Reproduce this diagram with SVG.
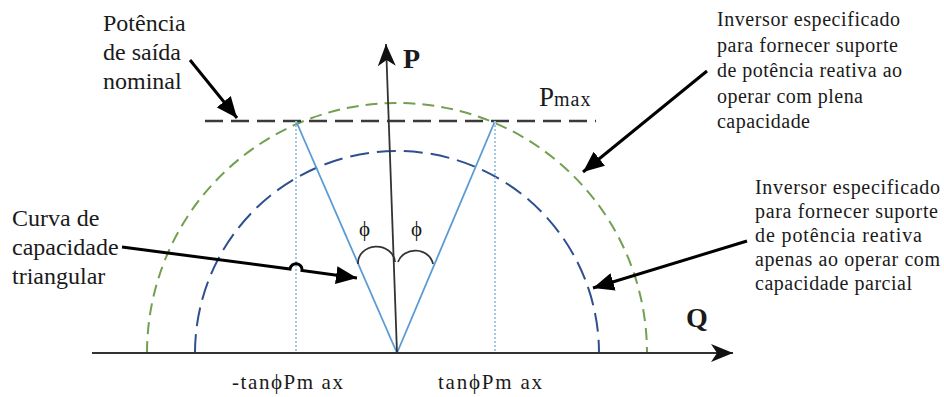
<svg xmlns="http://www.w3.org/2000/svg" width="944" height="397" viewBox="0 0 944 397">
<style>
.t{font-family:"Liberation Serif","Times New Roman",serif;fill:#1a1a1a}
.lbl{font-size:24px}
.rt{font-size:20px}
.ax{stroke:#333;stroke-width:1.8;fill:none}
.call{stroke:#000;stroke-width:3;fill:none}
</style>
<defs>
<marker id="axh" markerUnits="userSpaceOnUse" markerWidth="24" markerHeight="18" refX="22" refY="9" orient="auto">
<path d="M0,0 L22,9 L0,18 L6,9 z" fill="#111"/>
</marker>
<marker id="cah" markerUnits="userSpaceOnUse" markerWidth="22" markerHeight="18" refX="21" refY="9" orient="auto">
<path d="M0,0 L21,9 L0,18 z" fill="#000"/>
</marker>
</defs>
<rect width="944" height="397" fill="#fff"/>

<g id="curves">
<path id="green-arc" d="M147,353 A250,250 0 0 1 647,353" fill="none" stroke="#72A050" stroke-width="2" stroke-dasharray="12 7"/>
<path id="blue-arc" d="M195,353 A202,202 0 0 1 599,353" fill="none" stroke="#2F4F8F" stroke-width="2" stroke-dasharray="19 8"/>
<line id="pmax-line" x1="205" y1="121" x2="596" y2="121" stroke="#3a3a3a" stroke-width="2.5" stroke-dasharray="18 8"/>
<g id="triangle">
<line x1="397" y1="353" x2="296" y2="121" stroke="#5B9BD5" stroke-width="1.8"/>
<line x1="397" y1="353" x2="495" y2="121" stroke="#5B9BD5" stroke-width="1.8"/>
<line x1="296" y1="121" x2="296" y2="353" stroke="#9DC3E6" stroke-width="1.8" stroke-dasharray="2 2"/>
<line x1="495" y1="121" x2="495" y2="353" stroke="#9DC3E6" stroke-width="1.8" stroke-dasharray="2 2"/>
</g>
<g id="phi-arcs" fill="none" stroke="#333" stroke-width="1.8">
<path d="M358,264 A18,16 0 0 1 395,262"/>
<path d="M398,262 A18,16 0 0 1 433,264"/>
</g>
</g>

<g id="connectors">
<line class="ax" x1="92" y1="353" x2="733" y2="353" marker-end="url(#axh)"/>
<line class="ax" x1="397" y1="353" x2="386" y2="44" marker-end="url(#axh)"/>
<line class="call" x1="190" y1="60" x2="237" y2="118" marker-end="url(#cah)"/>
<line class="call" x1="707" y1="71" x2="583" y2="172" marker-end="url(#cah)"/>
<line class="call" x1="747" y1="241" x2="593" y2="288" marker-end="url(#cah)"/>
<path class="call" d="M122,247 L290,269 A6,6 0 0 1 302,270.5 L357,278" marker-end="url(#cah)"/>
</g>

<g id="axis-labels">
<text class="t" x="403" y="68" font-size="28" font-weight="bold">P</text>
<text class="t" x="686" y="327" font-size="28" font-weight="bold">Q</text>
<text class="t" x="539" y="106" font-size="27">P<tspan font-size="20" letter-spacing="1">max</tspan></text>
<text class="t" x="359" y="236" font-size="21">ϕ</text>
<text class="t" x="411" y="236" font-size="21">ϕ</text>
<text class="t" x="232" y="389" font-size="21" textLength="111">-tanϕPm ax</text>
<text class="t" x="438" y="389" font-size="21" textLength="104">tanϕPm ax</text>
</g>

<g id="label-nominal">
<text class="t lbl" x="103" y="31">Potência</text>
<text class="t lbl" x="103" y="60">de saída</text>
<text class="t lbl" x="103" y="89">nominal</text>
</g>

<g id="label-curva">
<text class="t lbl" x="12" y="226">Curva de</text>
<text class="t lbl" x="12" y="255">capacidade</text>
<text class="t lbl" x="12" y="284">triangular</text>
</g>

<g id="label-plena">
<text class="t rt" x="717" y="26" textLength="183">Inversor especificado</text>
<text class="t rt" x="717" y="52" textLength="181">para fornecer suporte</text>
<text class="t rt" x="717" y="77" textLength="185">de potência reativa ao</text>
<text class="t rt" x="717" y="103" textLength="146">operar com plena</text>
<text class="t rt" x="717" y="128" textLength="93">capacidade</text>
</g>

<g id="label-parcial">
<text class="t rt" x="755" y="194" textLength="185">Inversor especificado</text>
<text class="t rt" x="755" y="218" textLength="183">para fornecer suporte</text>
<text class="t rt" x="755" y="242" textLength="167">de potência reativa</text>
<text class="t rt" x="755" y="266" textLength="185">apenas ao operar com</text>
<text class="t rt" x="755" y="290" textLength="157">capacidade parcial</text>
</g>
</svg>
